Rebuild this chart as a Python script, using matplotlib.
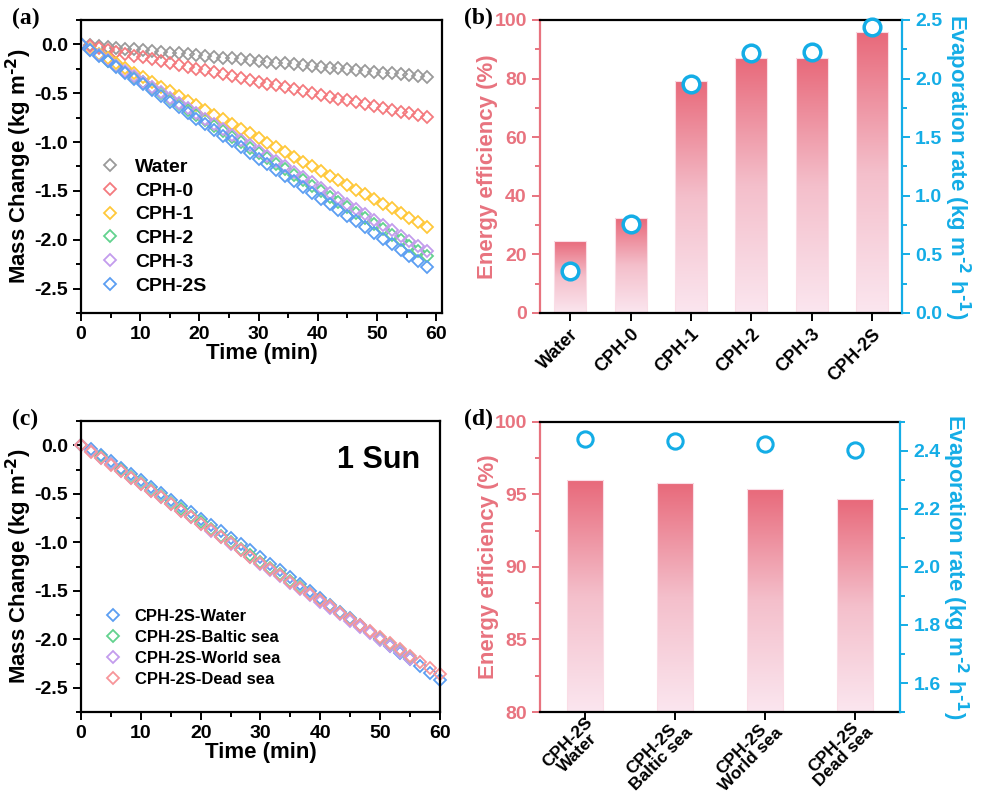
import numpy as np
import matplotlib
matplotlib.use("Agg")
import matplotlib.pyplot as plt
from matplotlib.colors import LinearSegmentedColormap
from matplotlib.ticker import MultipleLocator

plt.rcParams['font.family'] = ['Liberation Sans', 'DejaVu Sans']
plt.rcParams['font.weight'] = 'bold'
plt.rcParams['axes.labelweight'] = 'bold'
plt.rcParams['mathtext.default'] = 'bf'
plt.rcParams['axes.unicode_minus'] = False

# ---- panel (a): mass change, different samples ----
time_a = [0, 1.5, 3, 4.5, 6, 7.5, 9, 10.5, 12, 13.5, 15, 16.5, 18, 19.5, 21, 22.5,
          24, 25.5, 27, 28.5, 30, 31.5, 33, 34.5, 36, 37.5, 39, 40.5, 42, 43.5,
          45, 46.5, 48, 49.5, 51, 52.5, 54, 55.5, 57, 58.5]
water = [0, -0.008, -0.017, -0.025, -0.034, -0.042, -0.051, -0.059, -0.068, -0.076,
         -0.085, -0.093, -0.102, -0.110, -0.118, -0.127, -0.135, -0.144, -0.152, -0.161,
         -0.169, -0.178, -0.186, -0.195, -0.203, -0.212, -0.220, -0.228, -0.237, -0.245,
         -0.254, -0.262, -0.271, -0.279, -0.288, -0.296, -0.305, -0.313, -0.322, -0.330]
cph0 = [0, -0.019, -0.038, -0.057, -0.076, -0.096, -0.115, -0.134, -0.153, -0.172,
        -0.191, -0.210, -0.229, -0.248, -0.267, -0.287, -0.306, -0.325, -0.344, -0.363,
        -0.382, -0.401, -0.420, -0.439, -0.458, -0.478, -0.497, -0.516, -0.535, -0.554,
        -0.573, -0.592, -0.611, -0.630, -0.649, -0.669, -0.688, -0.707, -0.726, -0.745]
cph1 = [0, -0.048, -0.096, -0.144, -0.192, -0.240, -0.288, -0.336, -0.384, -0.432,
        -0.480, -0.527, -0.575, -0.623, -0.671, -0.719, -0.767, -0.815, -0.863, -0.911,
        -0.959, -1.007, -1.055, -1.103, -1.151, -1.199, -1.247, -1.295, -1.343, -1.391,
        -1.439, -1.486, -1.534, -1.582, -1.630, -1.678, -1.726, -1.774, -1.822, -1.870]
cph2 = [0, -0.056, -0.111, -0.167, -0.223, -0.278, -0.334, -0.389, -0.445, -0.501,
        -0.556, -0.612, -0.668, -0.723, -0.779, -0.835, -0.890, -0.946, -1.002, -1.057,
        -1.113, -1.168, -1.224, -1.280, -1.335, -1.391, -1.447, -1.502, -1.558, -1.614,
        -1.669, -1.725, -1.781, -1.836, -1.892, -1.947, -2.003, -2.059, -2.114, -2.170]
cph3 = [0, -0.054, -0.109, -0.163, -0.217, -0.272, -0.326, -0.381, -0.435, -0.489,
        -0.544, -0.598, -0.652, -0.707, -0.761, -0.815, -0.870, -0.924, -0.978, -1.033,
        -1.087, -1.142, -1.196, -1.250, -1.305, -1.359, -1.413, -1.468, -1.522, -1.576,
        -1.631, -1.685, -1.739, -1.794, -1.848, -1.903, -1.957, -2.011, -2.066, -2.120]
cph2s = [0, -0.058, -0.117, -0.175, -0.234, -0.292, -0.351, -0.409, -0.468, -0.526,
         -0.585, -0.643, -0.702, -0.760, -0.818, -0.877, -0.935, -0.994, -1.052, -1.111,
         -1.169, -1.228, -1.286, -1.345, -1.403, -1.462, -1.520, -1.578, -1.637, -1.695,
         -1.754, -1.812, -1.871, -1.929, -1.988, -2.046, -2.105, -2.163, -2.222, -2.280]
labels_a = ['Water', 'CPH-0', 'CPH-1', 'CPH-2', 'CPH-3', 'CPH-2S']
colors_a = ['#9a9a9a', '#f47a7e', '#ffc83a', '#62d28e', '#c39ced', '#5b9ef2']

# ---- panel (b): efficiency / evaporation rate ----
samples_b = ['Water', 'CPH-0', 'CPH-1', 'CPH-2', 'CPH-3', 'CPH-2S']
efficiency_b = [24.7, 32.3, 79.2, 87.0, 87.0, 95.8]
evap_b = [0.36, 0.76, 1.95, 2.216, 2.228, 2.44]

# ---- panel (c): CPH-2S in different waters ----
time_c = [0, 1.67, 3.33, 5, 6.67, 8.33, 10, 11.67, 13.33, 15, 16.67, 18.33, 20,
          21.67, 23.33, 25, 26.67, 28.33, 30, 31.67, 33.33, 35, 36.67, 38.33, 40,
          41.67, 43.33, 45, 46.67, 48.33, 50, 51.67, 53.33, 55, 56.67, 58.33, 60]
sea_water = [0, -0.035, -0.101, -0.166, -0.232, -0.297, -0.363, -0.429, -0.494, -0.560,
             -0.625, -0.691, -0.757, -0.822, -0.888, -0.953, -1.019, -1.084, -1.150,
             -1.221, -1.291, -1.362, -1.432, -1.503, -1.573, -1.644, -1.714, -1.785,
             -1.856, -1.926, -1.997, -2.067, -2.138, -2.208, -2.279, -2.349, -2.420]
baltic = [0, -0.055, -0.122, -0.190, -0.257, -0.325, -0.392, -0.459, -0.527, -0.594,
          -0.661, -0.729, -0.796, -0.863, -0.931, -0.998, -1.065, -1.133, -1.200,
          -1.266, -1.332, -1.398, -1.464, -1.530, -1.596, -1.662, -1.728, -1.794,
          -1.860, -1.926, -1.992, -2.058, -2.124, -2.190]
world = [0, -0.060, -0.128, -0.197, -0.265, -0.333, -0.401, -0.469, -0.538, -0.606,
         -0.674, -0.742, -0.811, -0.879, -0.947, -1.015, -1.084, -1.152, -1.220,
         -1.285, -1.351, -1.416, -1.481, -1.547, -1.612, -1.677, -1.743, -1.808,
         -1.873, -1.939, -2.004, -2.069, -2.135, -2.200]
dead = [0, -0.065, -0.133, -0.200, -0.268, -0.335, -0.403, -0.471, -0.538, -0.606,
        -0.673, -0.741, -0.809, -0.876, -0.944, -1.012, -1.079, -1.147, -1.215,
        -1.279, -1.342, -1.406, -1.469, -1.533, -1.597, -1.660, -1.724, -1.787,
        -1.851, -1.915, -1.978, -2.042, -2.105, -2.169, -2.233, -2.296, -2.360]
labels_c = ['CPH-2S-Water', 'CPH-2S-Baltic sea', 'CPH-2S-World sea', 'CPH-2S-Dead sea']
colors_c = ['#5b9ef2', '#62d28e', '#c39ced', '#f7959a']

# ---- panel (d) ----
samples_d = ['CPH-2S\nWater', 'CPH-2S\nBaltic sea', 'CPH-2S\nWorld sea', 'CPH-2S\nDead sea']
efficiency_d = [96.0, 95.8, 95.4, 94.65]
evap_d = [2.44, 2.433, 2.424, 2.404]

PINK = '#e8737f'
CYAN = '#14ade6'
bar_cmap = LinearSegmentedColormap.from_list('pinkgrad', ['#fbe6ef', '#f4bfcb', '#e8697a'])
MASS_LABEL = r'Mass Change (kg m$^{\text{-2}}$)'
EVAP_LABEL = r'Evaporation rate (kg m$^{\text{-2}}$ h$^{\text{-1}}$)'

fig = plt.figure(figsize=(9.84, 7.93), dpi=100)


def style_axis(ax):
    for s in ax.spines.values():
        s.set_linewidth(1.6)
    ax.tick_params(which='both', direction='out', width=1.4, labelsize=14,
                   top=False, right=False)
    ax.tick_params(which='major', length=6)
    ax.tick_params(which='minor', length=3.5)


def mass_panel(ax, xmax):
    style_axis(ax)
    ax.set_xlim(0, xmax)
    ax.set_ylim(-2.75, 0.25)
    ax.xaxis.set_major_locator(MultipleLocator(10))
    ax.xaxis.set_minor_locator(MultipleLocator(5))
    ax.yaxis.set_major_locator(MultipleLocator(0.5))
    ax.yaxis.set_minor_locator(MultipleLocator(0.25))
    ax.set_yticks([0, -0.5, -1.0, -1.5, -2.0, -2.5])
    ax.set_xlabel('Time (min)', fontsize=16, labelpad=0)
    ax.set_ylabel(MASS_LABEL, fontsize=16, va='center')
    ax.yaxis.set_label_coords(-0.172, 0.5)


def gradient_bars(ax, heights, width, base):
    x = np.arange(len(heights))
    bars = ax.bar(x, np.array(heights) - base, width, bottom=base, color='none',
                  edgecolor='#fadde6', linewidth=0.8, zorder=2)
    grad = np.linspace(0, 1, 256).reshape(-1, 1)
    for b in bars:
        x0, y0 = b.get_x(), b.get_y()
        im = ax.imshow(grad, extent=[x0, x0 + b.get_width(), y0, y0 + b.get_height()],
                       origin='lower', cmap=bar_cmap, aspect='auto', zorder=1)
        im.set_clip_path(b)


def bar_panel(ax, heights, width, base, top, rates, rlim, rmaj, rmin, lmaj, lmin,
              names, face, ms, mew, xpad, xfs):
    style_axis(ax)
    gradient_bars(ax, heights, width, base)
    ax.set_xlim(-0.5, len(heights) - 0.5)
    ax.set_ylim(base, top)
    ax.yaxis.set_major_locator(MultipleLocator(lmaj))
    ax.yaxis.set_minor_locator(MultipleLocator(lmin))
    ax.set_xticks(range(len(names)))
    ax.set_xticklabels(names, rotation=45, ha='right', rotation_mode='anchor',
                       multialignment='center', fontsize=xfs, linespacing=0.92)
    ax.tick_params(axis='x', which='minor', bottom=False)
    ax.tick_params(axis='x', which='major', pad=xpad)
    ax.spines['left'].set_color(PINK)
    ax.spines['right'].set_visible(False)
    ax.tick_params(axis='y', which='both', colors=PINK, labelcolor=PINK)
    ax.set_ylabel('Energy efficiency (%)', color=PINK, fontsize=16, va='center')
    ax.yaxis.set_label_coords(-0.144, 0.5)

    ax2 = ax.twinx()
    style_axis(ax2)
    ax2.plot(range(len(rates)), rates, 'o', ms=ms, mfc=face, mec=CYAN, mew=mew,
             zorder=5, clip_on=False)
    ax2.set_ylim(*rlim)
    ax2.yaxis.set_major_locator(MultipleLocator(rmaj))
    ax2.yaxis.set_minor_locator(MultipleLocator(rmin))
    ax2.yaxis.set_major_formatter('{x:.1f}')
    for s in ['left', 'top', 'bottom']:
        ax2.spines[s].set_visible(False)
    ax2.spines['right'].set_color(CYAN)
    ax2.tick_params(axis='y', which='both', right=True, left=False, colors=CYAN,
                    labelcolor=CYAN, labelright=True, labelleft=False)
    ax2.set_ylabel(EVAP_LABEL, color=CYAN, fontsize=16, rotation=270, va='center')
    ax2.yaxis.set_label_coords(1.152, 0.5)
    return ax2


# (a)
ax_a = fig.add_axes([0.0823, 0.6053, 0.3669, 0.3695])
series_a = [water, cph0, cph1, cph2, cph3, cph2s]
for vals, lab, col in zip(series_a, labels_a, colors_a):
    ax_a.plot(time_a, vals, 'D', ms=6, mfc='none', mec=col, mew=1.3, label=lab)
mass_panel(ax_a, 61)
ax_a.legend(loc='lower left', bbox_to_anchor=(0.037, 0.035), frameon=False, fontsize=14,
            handlelength=0.8, handletextpad=0.9, labelspacing=0.32, borderaxespad=0)

# (b)
ax_b = fig.add_axes([0.5488, 0.6053, 0.3679, 0.3695])
bar_panel(ax_b, efficiency_b, 0.53, 0, 100, evap_b, (0, 2.5), 0.5, 0.25, 20, 10,
          samples_b, 'white', 12, 2.5, 3, 13)

# (c)
ax_c = fig.add_axes([0.0823, 0.1021, 0.3648, 0.367])
series_c = [sea_water, baltic, world, dead]
for vals, lab, col in zip(series_c, labels_c, colors_c):
    ax_c.plot(time_c[:len(vals)], vals, 'D', ms=6, mfc='none', mec=col, mew=1.3,
              label=lab, clip_on=False)
mass_panel(ax_c, 60)
ax_c.legend(loc='lower left', bbox_to_anchor=(0.052, 0.062), frameon=False, fontsize=12,
            handlelength=0.8, handletextpad=0.9, labelspacing=0.36, borderaxespad=0)
ax_c.text(0.945, 0.865, '1 Sun', transform=ax_c.transAxes, fontsize=22,
          ha='right', va='center')

# (d)
ax_d = fig.add_axes([0.5488, 0.1021, 0.3659, 0.366])
bar_panel(ax_d, efficiency_d, 0.4, 80, 100, evap_d, (1.5, 2.5), 0.2, 0.1, 5, 2.5,
          samples_d, 'none', 11, 2.2, -4, 12.5)

# panel letters
for lx, ly, letter in [(0.012, 0.99, '(a)'), (0.472, 0.99, '(b)'),
                       (0.012, 0.485, '(c)'), (0.472, 0.485, '(d)')]:
    fig.text(lx, ly, letter, family='Liberation Serif', fontsize=17,
             fontweight='bold', va='top')

fig.savefig('out.png', dpi=100)
